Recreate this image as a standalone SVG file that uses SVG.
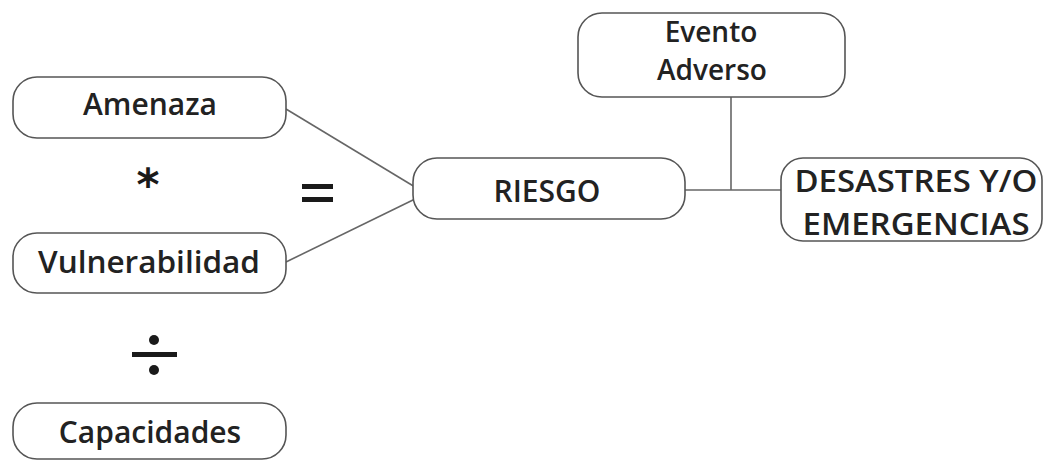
<svg xmlns="http://www.w3.org/2000/svg" width="1048" height="460" viewBox="0 0 1048 460">
<style>
.box{fill:#fff;stroke:#555;stroke-width:1.6}
.t{font-family:"Open Sans","Liberation Sans",sans-serif;font-weight:600;font-size:30px;fill:#222;text-anchor:middle}
.s{font-size:28px}
.c{stroke:#666;stroke-width:1.6;fill:none}
.op{fill:#1a1a1a}
</style>
<rect width="1048" height="460" fill="#fff"/>
<g id="connectors">
<line class="c" x1="286" y1="109" x2="415" y2="187"/>
<line class="c" x1="286" y1="262" x2="415" y2="199"/>
<line class="c" x1="685" y1="190" x2="781" y2="190"/>
<line class="c" x1="731" y1="97" x2="731" y2="190"/>
</g>
<g id="amenaza">
<rect class="box" x="13" y="77" width="273" height="61" rx="24"/>
<text class="t" x="150" y="115">Amenaza</text>
</g>
<g id="vulnerabilidad">
<rect class="box" x="13" y="233" width="273" height="60" rx="24"/>
<text class="t" x="149" y="273" textLength="222" lengthAdjust="spacingAndGlyphs">Vulnerabilidad</text>
</g>
<g id="capacidades">
<rect class="box" x="13" y="403" width="273" height="56" rx="24"/>
<text class="t" x="150" y="443">Capacidades</text>
</g>
<g id="riesgo">
<rect class="box" x="413" y="158" width="272" height="61" rx="24"/>
<text class="t" x="547" y="202">RIESGO</text>
</g>
<g id="evento">
<rect class="box" x="578" y="13" width="267" height="84" rx="24"/>
<text class="t s" x="711" y="42">Evento</text>
<text class="t s" x="712" y="80">Adverso</text>
</g>
<g id="desastres">
<rect class="box" x="781" y="158" width="261" height="83" rx="22"/>
<text class="t" x="916" y="192" textLength="243" lengthAdjust="spacingAndGlyphs">DESASTRES Y/O</text>
<text class="t" x="916" y="235" textLength="227" lengthAdjust="spacingAndGlyphs">EMERGENCIAS</text>
</g>
<g id="operators">
<text x="148" y="200" style="font-family:'DejaVu Sans',sans-serif;font-weight:bold;font-size:44px;fill:#1a1a1a;text-anchor:middle">*</text>
<rect class="op" x="302" y="184" width="31" height="5"/>
<rect class="op" x="302" y="197" width="31" height="5"/>
<rect class="op" x="132" y="352" width="45" height="5"/>
<circle class="op" cx="154" cy="340" r="5"/>
<circle class="op" cx="154" cy="370" r="5"/>
</g>
</svg>
